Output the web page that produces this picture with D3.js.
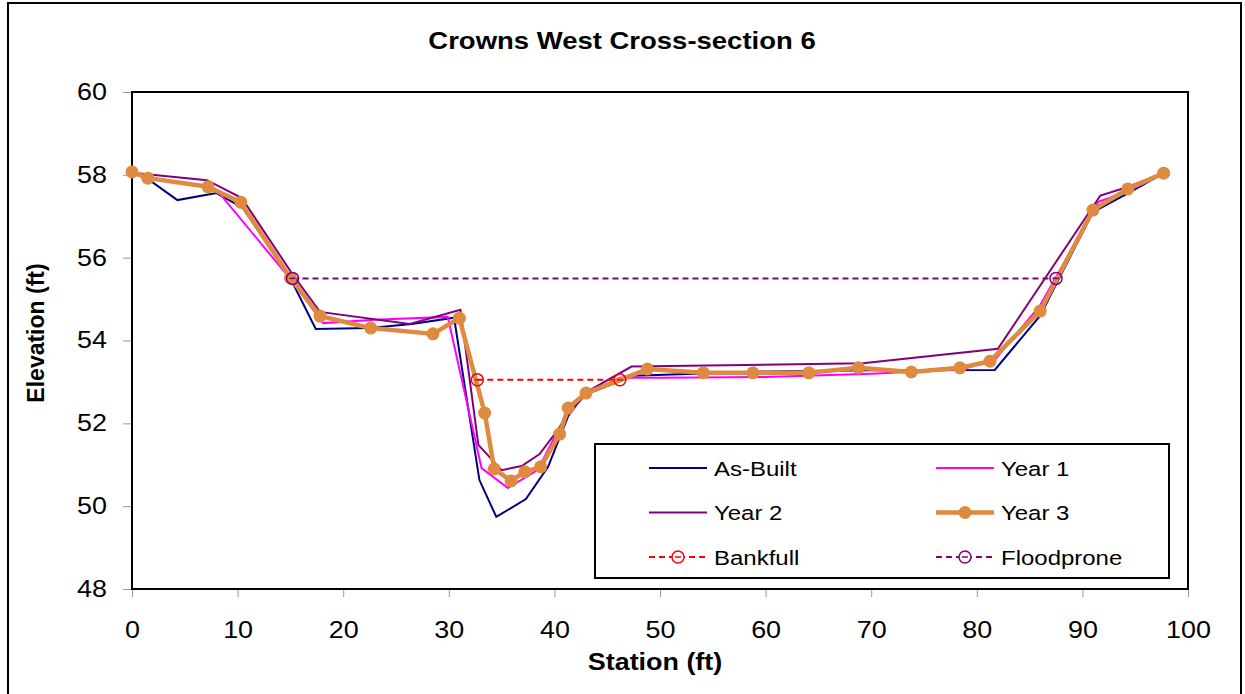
<!DOCTYPE html>
<html><head><meta charset="utf-8">
<script src="https://cdn.jsdelivr.net/npm/d3@7"></script>
<style>body{margin:0;background:#fff}svg{display:block}text{font-family:"Liberation Sans",Arial,sans-serif}</style>
</head><body><svg id="c" width="1245" height="694"></svg>
<script>
const xTicks = [0,10,20,30,40,50,60,70,80,90,100];
const yTicks = [48,50,52,54,56,58,60];

const asBuiltX = [0, 1.5, 4.3, 8.0, 10.5, 15.0, 17.4, 22.5, 26.5, 30.5, 32.9, 34.5, 37.3, 39.4, 41.5, 43.0, 47.5, 60, 70, 81.7, 86.0, 91.0, 94.3, 97.7];
const asBuiltY = [58.05, 57.9, 57.39, 57.56, 57.2, 55.5, 54.28, 54.30, 54.4, 54.55, 50.63, 49.74, 50.17, 50.95, 52.3, 52.7, 53.15, 53.25, 53.28, 53.29, 54.6, 57.1, 57.55, 58.04];

const year1X = [0, 1.5, 7.4, 8.3, 15.3, 18.1, 23, 29.9, 33.1, 35.6, 38.4, 41.3, 43, 46.2, 50, 60, 70, 78.4, 81.6, 86.0, 91.5, 94.3, 97.7];
const year1Y = [58.05, 57.95, 57.68, 57.55, 55.39, 54.42, 54.5, 54.57, 50.92, 50.44, 50.87, 52.3, 52.7, 53.1, 53.1, 53.12, 53.2, 53.3, 53.5, 54.85, 57.35, 57.6, 58.04];

const year2X = [0, 7.1, 10.4, 15.2, 17.8, 26.3, 31.1, 32.8, 35.0, 36.9, 38.6, 40.5, 43, 47.3, 69.2, 82, 91.7, 94.2, 97.7];
const year2Y = [58.05, 57.87, 57.44, 55.6, 54.69, 54.4, 54.74, 51.48, 50.87, 50.97, 51.26, 51.9, 52.75, 53.37, 53.45, 53.8, 57.5, 57.7, 58.04];

const year3X = [0, 1.5, 7.2, 10.3, 15.0, 17.8, 22.6, 28.5, 31.0, 33.4, 34.3, 35.9, 37.2, 38.7, 40.5, 41.3, 43.0, 48.8, 54.1, 58.8, 64.1, 68.8, 73.8, 78.4, 81.25, 86.0, 91.0, 94.3, 97.7];
const year3Y = [58.07, 57.92, 57.71, 57.34, 55.51, 54.59, 54.30, 54.16, 54.54, 52.25, 50.90, 50.61, 50.83, 50.95, 51.74, 52.37, 52.73, 53.31, 53.22, 53.22, 53.22, 53.34, 53.24, 53.34, 53.5, 54.71, 57.15, 57.66, 58.04];

const bankfullX = [32.7, 46.2];
const bankfullY = [53.05, 53.05];
const floodX = [15.2, 87.5];
const floodY = [55.5, 55.5];

const SX = 1.17; // horizontal stretch of text in the reference
const svg = d3.select("#c");
const L = 132, R = 1188, T = 92, B = 589;
const x = d3.scaleLinear().domain([0,100]).range([L,R]);
const y = d3.scaleLinear().domain([48,60]).range([B,T]);

function stext(g, px, py, str, size, weight, anchor){
  return g.append("text").attr("transform",`translate(${px},${py}) scale(${SX},1)`)
    .attr("text-anchor",anchor||"start").attr("font-size",size)
    .attr("font-weight",weight||"normal").text(str);
}

// outer frame
svg.append("rect").attr("x",8).attr("y",3).attr("width",1233).attr("height",700)
  .attr("fill","none").attr("stroke","#000").attr("stroke-width",2);

// title
stext(svg, 622, 49, "Crowns West Cross-section 6", 23.5, "bold", "middle");

// axes
const xAxis = d3.axisBottom(x).tickValues(xTicks).tickSize(8).tickPadding(25).tickFormat(d3.format("d"));
const yAxis = d3.axisLeft(y).tickValues(yTicks).tickSize(9).tickPadding(16).tickFormat(d3.format("d"));
const gx = svg.append("g").attr("transform",`translate(0,${B})`).call(xAxis);
const gy = svg.append("g").attr("transform",`translate(${L},0)`).call(yAxis);
[gx,gy].forEach(g=>{
  g.select(".domain").remove();
  g.selectAll(".tick line").attr("stroke","#999");
  g.selectAll(".tick text").attr("font-size",23).attr("fill","#000")
    .style("font-family","'Liberation Sans',Arial,sans-serif")
    .each(function(){
      const t = d3.select(this);
      const xv = +(t.attr("x")||0);
      t.attr("x", xv/SX).attr("transform",`scale(${SX},1)`);
    });
});
// plot frame
svg.append("rect").attr("x",L).attr("y",T).attr("width",R-L).attr("height",B-T)
  .attr("fill","none").attr("stroke","#000").attr("stroke-width",2);

// axis titles
stext(svg, 655, 670, "Station (ft)", 23, "bold", "middle");
svg.append("text").attr("transform","translate(44,333) rotate(-90)").attr("text-anchor","middle")
  .attr("font-size",23).attr("font-weight","bold").text("Elevation (ft)");

const line = d3.line().x(d=>x(d[0])).y(d=>y(d[1]));
const zip = (a,b)=>a.map((v,i)=>[v,b[i]]);

const plot = svg.append("g");
plot.append("path").datum(zip(asBuiltX,asBuiltY)).attr("d",line).attr("fill","none").attr("stroke","#000080").attr("stroke-width",2);
plot.append("path").datum(zip(year1X,year1Y)).attr("d",line).attr("fill","none").attr("stroke","#FF00FF").attr("stroke-width",2);
plot.append("path").datum(zip(year2X,year2Y)).attr("d",line).attr("fill","none").attr("stroke","#800080").attr("stroke-width",2);

const dashSeries = [[bankfullX,bankfullY,"#FF0000"],[floodX,floodY,"#800080"]];
dashSeries.forEach(([xs,ys,c])=>{
  plot.append("path").datum(zip(xs,ys)).attr("d",line).attr("fill","none").attr("stroke",c).attr("stroke-width",2).attr("stroke-dasharray","6,4");
});

const orange = "#DE8A3F";
plot.append("path").datum(zip(year3X,year3Y)).attr("d",line).attr("fill","none").attr("stroke",orange).attr("stroke-width",4.5).attr("stroke-linejoin","round");
plot.selectAll("circle.y3").data(zip(year3X,year3Y)).join("circle").attr("class","y3")
  .attr("cx",d=>x(d[0])).attr("cy",d=>y(d[1])).attr("r",6.5).attr("fill",orange);

dashSeries.forEach(([xs,ys,c])=>{
  plot.selectAll(null).data(zip(xs,ys)).join("circle")
    .attr("cx",d=>x(d[0])).attr("cy",d=>y(d[1])).attr("r",6).attr("fill","none").attr("stroke",c).attr("stroke-width",1.5);
  plot.selectAll(null).data(zip(xs,ys)).join("line")
    .attr("x1",d=>x(d[0])-3).attr("x2",d=>x(d[0])+3).attr("y1",d=>y(d[1])).attr("y2",d=>y(d[1]))
    .attr("stroke",c).attr("stroke-width",1.5);
});

// legend
const lg = svg.append("g");
lg.append("rect").attr("x",595).attr("y",444).attr("width",574).attr("height",134).attr("fill","#fff").attr("stroke","#000").attr("stroke-width",2);
const items = [
  {name:"As-Built", c:"#000080", w:2, col:0, row:0},
  {name:"Year 1", c:"#FF00FF", w:2, col:1, row:0},
  {name:"Year 2", c:"#800080", w:2, col:0, row:1},
  {name:"Year 3", c:orange, w:4.5, col:1, row:1, marker:"dot"},
  {name:"Bankfull", c:"#FF0000", w:2, col:0, row:2, marker:"ring", dash:"6,4"},
  {name:"Floodprone", c:"#800080", w:2, col:1, row:2, marker:"ring", dash:"6,4"}
];
items.forEach(it=>{
  const x0 = it.col===0 ? 649 : 936;
  const yy = 468 + it.row*44.5;
  lg.append("line").attr("x1",x0).attr("x2",x0+58).attr("y1",yy).attr("y2",yy)
    .attr("stroke",it.c).attr("stroke-width",it.w).attr("stroke-dasharray",it.dash||null);
  if(it.marker==="dot") lg.append("circle").attr("cx",x0+29).attr("cy",yy).attr("r",6.5).attr("fill",it.c);
  if(it.marker==="ring"){
    lg.append("circle").attr("cx",x0+29).attr("cy",yy).attr("r",6).attr("fill","#fff").attr("stroke",it.c).attr("stroke-width",1.5);
    lg.append("line").attr("x1",x0+26).attr("x2",x0+32).attr("y1",yy).attr("y2",yy).attr("stroke",it.c).attr("stroke-width",1.5);
  }
  stext(lg, x0+65, yy+7.5, it.name, 20.5);
});
</script></body></html>
